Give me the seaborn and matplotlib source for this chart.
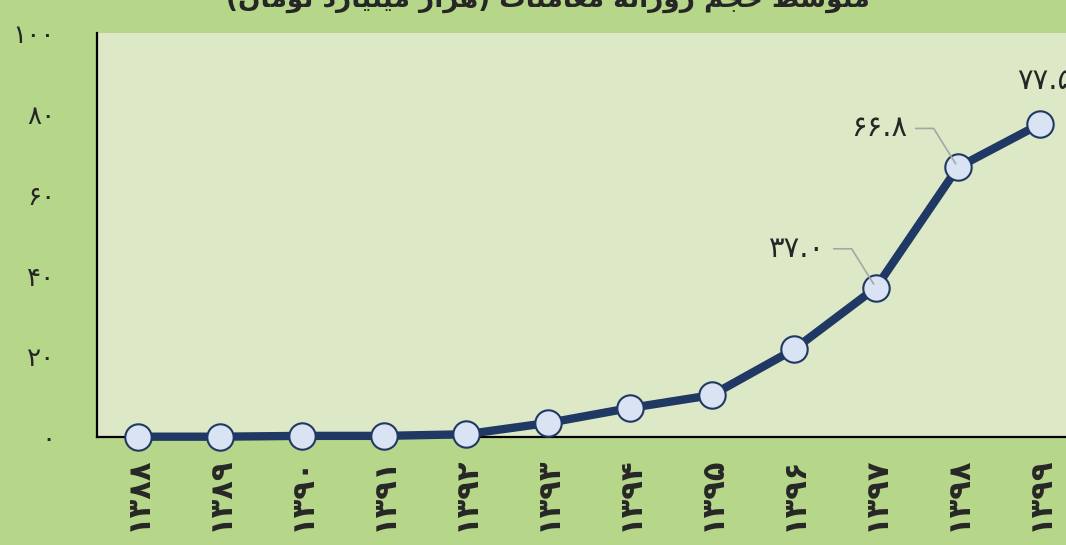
import seaborn as sns
import matplotlib.pyplot as plt
import pandas as pd

years = ['۱۳۸۸', '۱۳۸۹', '۱۳۹۰', '۱۳۹۱', '۱۳۹۲', '۱۳۹۳',
         '۱۳۹۴', '۱۳۹۵', '۱۳۹۶', '۱۳۹۷', '۱۳۹۸', '۱۳۹۹']
volume = [0.1, 0.1, 0.3, 0.3, 0.7, 3.5, 7.2, 10.4, 21.7, 37.0, 66.8, 77.5]
y_ticks = [0, 20, 40, 60, 80, 100]
y_tick_labels = ['۰', '۲۰', '۴۰', '۶۰', '۸۰', '۱۰۰']
point_labels = {9: '۳۷.۰', 10: '۶۶.۸', 11: '۷۷.۵'}
title = 'متوسط حجم روزانه معاملات (هزار میلیارد تومان)'

# matplotlib does not shape arabic script, so do it by hand
FORMS = {
    'ا': ('\uFE8D', '\uFE8E', None, None),
    'ت': ('\uFE95', '\uFE96', '\uFE97', '\uFE98'),
    'ج': ('\uFE9D', '\uFE9E', '\uFE9F', '\uFEA0'),
    'ح': ('\uFEA1', '\uFEA2', '\uFEA3', '\uFEA4'),
    'د': ('\uFEA9', '\uFEAA', None, None),
    'ر': ('\uFEAD', '\uFEAE', None, None),
    'ز': ('\uFEAF', '\uFEB0', None, None),
    'س': ('\uFEB1', '\uFEB2', '\uFEB3', '\uFEB4'),
    'ط': ('\uFEC1', '\uFEC2', '\uFEC3', '\uFEC4'),
    'ع': ('\uFEC9', '\uFECA', '\uFECB', '\uFECC'),
    'ل': ('\uFEDD', '\uFEDE', '\uFEDF', '\uFEE0'),
    'م': ('\uFEE1', '\uFEE2', '\uFEE3', '\uFEE4'),
    'ن': ('\uFEE5', '\uFEE6', '\uFEE7', '\uFEE8'),
    'ه': ('\uFEE9', '\uFEEA', '\uFEEB', '\uFEEC'),
    'و': ('\uFEED', '\uFEEE', None, None),
    'ی': ('\uFBFC', '\uFBFD', '\uFBFE', '\uFBFF'),
}


def shape(text):
    out = []
    for i, ch in enumerate(text):
        if ch not in FORMS:
            out.append(ch)
            continue
        prev = text[i - 1] if i > 0 else ''
        nxt = text[i + 1] if i + 1 < len(text) else ''
        join_prev = prev in FORMS and FORMS[prev][2] is not None
        join_next = nxt in FORMS and FORMS[ch][2] is not None
        iso, fin, ini, med = FORMS[ch]
        if join_prev and join_next:
            out.append(med)
        elif join_prev:
            out.append(fin)
        elif join_next:
            out.append(ini)
        else:
            out.append(iso)
    mirror = {'(': ')', ')': '('}
    return ''.join(mirror.get(c, c) for c in reversed(out))


df = pd.DataFrame({'x': range(len(years)), 'y': volume})

sns.set_style('white')
plt.rcParams['font.family'] = ['DejaVu Sans']

fig = plt.figure(figsize=(10.66, 5.45), dpi=100)
fig.patch.set_facecolor('#b6d78a')
ax = fig.add_axes([0.091, 0.198, 0.923, 0.741])
ax.set_facecolor('#dde9c6')

sns.lineplot(data=df, x='x', y='y', ax=ax, color='#1f3864', linewidth=6,
             marker='o', markersize=19, markerfacecolor='#dae3f3',
             markeredgecolor='#1f3864', markeredgewidth=1.5, clip_on=False,
             zorder=3)

ax.set_xlim(-0.5, len(years) - 0.5)
ax.set_ylim(0, 100)
ax.set_xticks(range(len(years)))
ax.set_xticklabels(years, rotation=90, fontsize=22, fontweight='bold')
ax.set_yticks(y_ticks)
ax.set_yticklabels(y_tick_labels, fontsize=19)
ax.tick_params(length=0, pad=14)
ax.tick_params(axis='y', pad=30)
ax.set_xlabel('')
ax.set_ylabel('')
for s in ['top', 'right']:
    ax.spines[s].set_visible(False)
for s in ['left', 'bottom']:
    ax.spines[s].set_color('black')
    ax.spines[s].set_linewidth(1.6)

# data labels with leader lines
for i, lab in point_labels.items():
    if i == len(years) - 1:
        ax.annotate(lab, (i, volume[i]), xytext=(4, 31), textcoords='offset points',
                    ha='center', va='center', fontsize=21)
    else:
        ax.annotate(lab, (i, volume[i]), xytext=(-57, 28), textcoords='offset points',
                    ha='center', va='center', fontsize=21,
                    arrowprops=dict(arrowstyle='-', color='#a6a6a6', lw=1.2,
                                    shrinkA=4, shrinkB=3,
                                    connectionstyle='angle,angleA=0,angleB=122,rad=0'))

fig.text(0.514, 1.0, shape(title), ha='center', va='center', fontsize=19,
         fontweight='bold')

fig.savefig('out.png', dpi=100, facecolor=fig.get_facecolor())
